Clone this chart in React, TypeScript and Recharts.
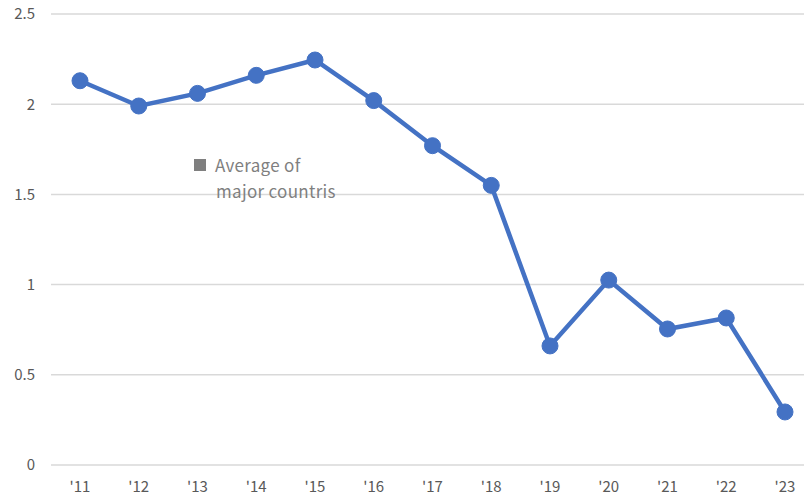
import React from "react";
import { LineChart, Line, XAxis, YAxis, CartesianGrid, Legend } from "recharts";

const categories = ["'11", "'12", "'13", "'14", "'15", "'16", "'17", "'18", "'19", "'20", "'21", "'22", "'23"];
const values = [2.13, 1.99, 2.06, 2.16, 2.245, 2.02, 1.77, 1.55, 0.66, 1.025, 0.754, 0.815, 0.294];
const yTicks = [0, 0.5, 1, 1.5, 2, 2.5];
const seriesName = "Average of major countris";

const data = categories.map((c, i) => ({ year: c, value: values[i] }));

const FONT = "'Noto Sans CJK KR', 'Noto Sans', sans-serif";

const LegendContent = () => (
  <div style={{ fontFamily: FONT, fontSize: 17, color: "#7f7f7f", lineHeight: "26px", letterSpacing: 0.3, whiteSpace: "nowrap" }}>
    <div style={{ display: "flex", alignItems: "center" }}>
      <span style={{ display: "inline-block", width: 12, height: 12, background: "#7f7f7f", marginRight: 9 }} />
      <span>Average of</span>
    </div>
    <div style={{ paddingLeft: 22 }}>major countris</div>
  </div>
);

export default function App() {
  return (
    <div style={{ position: "absolute", left: 0, top: 0, width: 804, height: 496, overflow: "hidden", background: "#fff" }}>
      <LineChart width={814} height={496} data={data} margin={{ top: 14, right: 0, bottom: 0, left: 0 }}>
        <CartesianGrid vertical={false} stroke="#d9d9d9" strokeWidth={1.5} />
        <XAxis
          dataKey="year"
          axisLine={false}
          tickLine={false}
          height={31}
          tickMargin={10}
          interval={0}
          padding={{ left: 29, right: 29 }}
          tick={{ fill: "#595959", fontSize: 15, fontFamily: FONT }}
        />
        <YAxis
          domain={[0, 2.5]}
          ticks={yTicks}
          axisLine={false}
          tickLine={false}
          width={51}
          tickMargin={10}
          tick={{ fill: "#595959", fontSize: 15, fontFamily: FONT }}
        />
        <Legend
          layout="horizontal"
          verticalAlign="middle"
          align="center"
          content={<LegendContent />}
          wrapperStyle={{ position: "absolute", left: 194, top: 152, width: 200 }}
        />
        <Line
          type="linear"
          dataKey="value"
          name={seriesName}
          stroke="#4472C4"
          strokeWidth={4.5}
          dot={{ r: 8, fill: "#4472C4", stroke: "#4472C4", strokeWidth: 1 }}
          isAnimationActive={false}
        />
      </LineChart>
    </div>
  );
}
